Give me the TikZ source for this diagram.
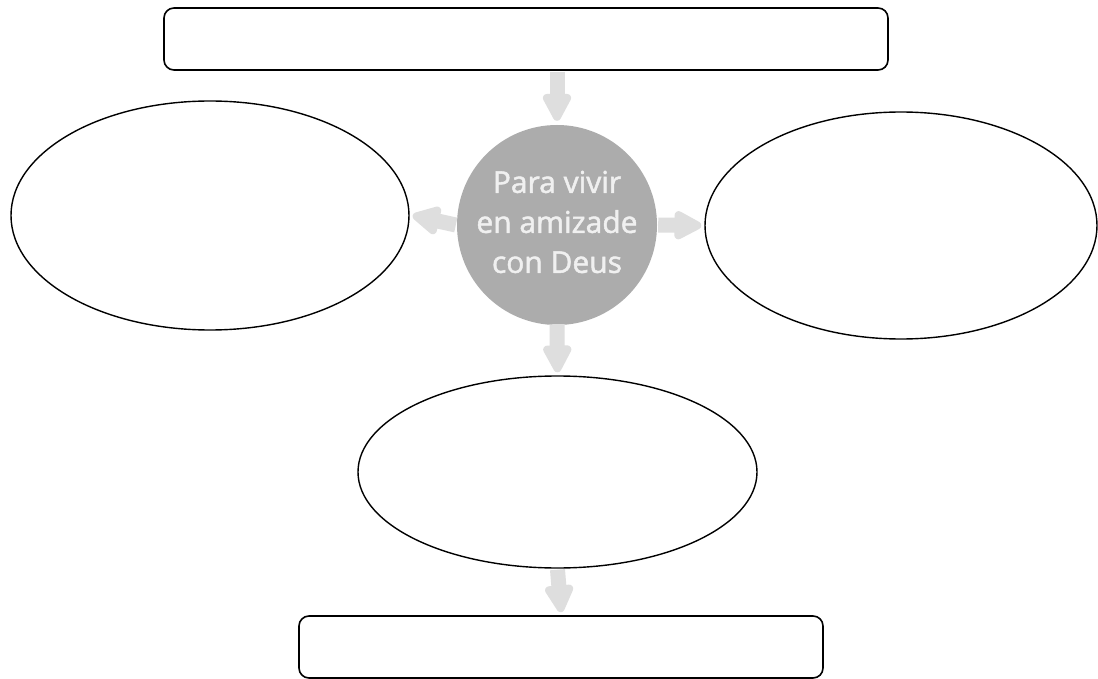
\documentclass[tikz,border=0pt]{standalone}
\usepackage{fontspec}
\setmainfont{Open Sans}
\newfontfamily\hubfont{Open Sans}[BoldFont={Open Sans},BoldFeatures={FakeBold=1.6}]
\usetikzlibrary{shapes.geometric,arrows.meta}
\definecolor{circfill}{HTML}{ACACAC}
\definecolor{arrowgray}{HTML}{DEDEDE}
\definecolor{textlight}{HTML}{F0F0F0}
\tikzset{
  blankbox/.style={draw=black, line width=1.6pt, rounded corners=10pt, fill=white, inner sep=0pt},
  blankoval/.style={draw=black, line width=1.4pt, ellipse, fill=white, inner sep=0pt},
  hub/.style={circle, fill=circfill, inner sep=0pt, minimum size=200pt},
  hubtext/.style={text=textlight, align=center, inner sep=0pt,
    font=\hubfont\fontsize{30}{40}\selectfont\bfseries},
  fatarrow/.style={draw=arrowgray, line width=15pt,
    -{Triangle[length=32pt, width=31pt, round]}, arrowgray}
}
\begin{document}
\begin{tikzpicture}[x=1pt,y=-1pt]
\useasboundingbox (0,0) rectangle (1098,679);
\fill[white] (0,0) rectangle (1098,679);
% nodes
\node[hub] (c) at (557,225) {};
\node[hubtext] (ct) at ([yshift=3pt]c.center) {Para vivir\\en amizade\\con Deus};
\node[blankbox, minimum width=724pt, minimum height=62pt] (top) at (526,39) {};
\node[blankbox, minimum width=524pt, minimum height=62pt] (bot) at (561,647) {};
\node[blankoval, minimum width=398pt, minimum height=229pt] (left) at (210,215.5) {};
\node[blankoval, minimum width=392pt, minimum height=227pt] (right) at (901,225.5) {};
\node[blankoval, minimum width=399pt, minimum height=192pt] (mid) at (557.5,472) {};
% arrows
\draw[fatarrow] ([yshift=-1pt]top.south -| c.north) -- ([yshift=4pt]c.north);
\draw[fatarrow] ([xshift=-1pt]c.west) -- ([xshift=3pt]left.east);
\draw[fatarrow] ([xshift=1pt]c.east) -- ([xshift=-3pt]right.west);
\draw[fatarrow] ([yshift=1pt]c.south) -- ([yshift=3pt]mid.north);
\draw[fatarrow] ([yshift=-1pt]mid.south) -- ([yshift=3pt]bot.north);
\end{tikzpicture}
\end{document}
